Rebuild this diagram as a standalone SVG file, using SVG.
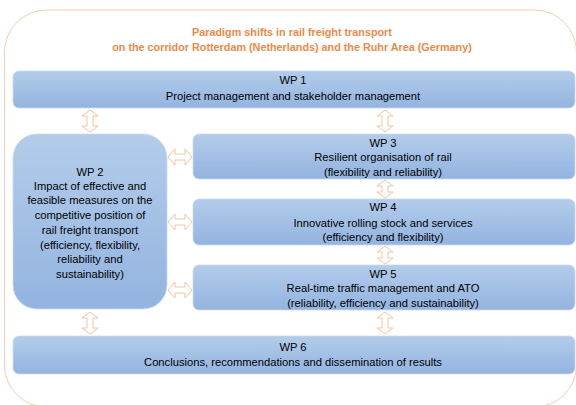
<svg xmlns="http://www.w3.org/2000/svg" width="576" height="405" viewBox="0 0 576 405">
<defs>
<linearGradient id="blue" x1="0" y1="0" x2="0" y2="1">
<stop offset="0" stop-color="#B3CCEA"/>
<stop offset="1" stop-color="#93B4E0"/>
</linearGradient>
<style>
.box{fill:url(#blue);stroke:#C9DAF0;stroke-width:0.8}
.t{font-family:"Liberation Sans",Arial,sans-serif;font-size:11.2px;fill:#000;text-anchor:middle}
.title{font-family:"Liberation Sans",Arial,sans-serif;font-size:10.8px;font-weight:bold;fill:#EC8A4A;text-anchor:middle}
.arr{fill:#fff;stroke:#F6C3A0;stroke-width:1}
</style>
</defs>
<rect x="0" y="0" width="576" height="405" fill="#fff"/>
<rect x="4.5" y="10" width="572" height="397" rx="42" fill="none" stroke="#F8CDB0" stroke-width="1"/>
<text class="title" x="292" y="35.5">Paradigm shifts in rail freight transport</text>
<text class="title" x="292" y="50.5">on the corridor Rotterdam (Netherlands) and the Ruhr Area (Germany)</text>

<g id="connectors">
<polygon class="arr" points="90,110 98,116 93,116 93,126 98,126 90,132 82,126 87,126 87,116 82,116"/>
<polygon class="arr" points="385,110 393,116 388,116 388,126 393,126 385,132 377,126 382,126 382,116 377,116"/>
<polygon class="arr" points="385,180 393,186 388,186 388,192 393,192 385,198 377,192 382,192 382,186 377,186"/>
<polygon class="arr" points="385,246 393,252 388,252 388,258 393,258 385,264 377,258 382,258 382,252 377,252"/>
<polygon class="arr" points="90,312 98,318 93,318 93,328 98,328 90,334 82,328 87,328 87,318 82,318"/>
<polygon class="arr" points="385,312 393,318 388,318 388,328 393,328 385,334 377,328 382,328 382,318 377,318"/>
<polygon class="arr" points="168,157 175,149 175,154 185,154 185,149 192,157 185,165 185,160 175,160 175,165"/>
<polygon class="arr" points="168,222 175,214 175,219 185,219 185,214 192,222 185,230 185,225 175,225 175,230"/>
<polygon class="arr" points="168,290 175,282 175,287 185,287 185,282 192,290 185,298 185,293 175,293 175,298"/>
</g>

<g id="wp1">
<rect class="box" x="13" y="71" width="562" height="37" rx="6"/>
<text class="t" x="293" y="84">WP 1</text>
<text class="t" x="293" y="100">Project management and stakeholder management</text>
</g>
<g id="wp2">
<rect class="box" x="13" y="134" width="154" height="175" rx="24"/>
<text class="t" x="90" y="176">WP 2</text>
<text class="t" x="90" y="190">Impact of effective and</text>
<text class="t" x="90" y="204">feasible measures on the</text>
<text class="t" x="90" y="219">competitive position of</text>
<text class="t" x="90" y="234">rail freight transport</text>
<text class="t" x="90" y="249">(efficiency, flexibility,</text>
<text class="t" x="90" y="263">reliability and</text>
<text class="t" x="90" y="278">sustainability)</text>
</g>
<g id="wp3">
<rect class="box" x="193" y="134" width="382" height="45" rx="6"/>
<text class="t" x="383" y="147">WP 3</text>
<text class="t" x="383" y="161">Resilient organisation of rail</text>
<text class="t" x="383" y="176">(flexibility and reliability)</text>
</g>
<g id="wp4">
<rect class="box" x="193" y="199" width="382" height="46" rx="6"/>
<text class="t" x="383" y="211">WP 4</text>
<text class="t" x="383" y="227">Innovative rolling stock and services</text>
<text class="t" x="383" y="241">(efficiency and flexibility)</text>
</g>
<g id="wp5">
<rect class="box" x="193" y="265" width="382" height="45" rx="6"/>
<text class="t" x="383" y="278">WP 5</text>
<text class="t" x="383" y="292">Real-time traffic management and ATO</text>
<text class="t" x="383" y="307">(reliability, efficiency and sustainability)</text>
</g>
<g id="wp6">
<rect class="box" x="13" y="336" width="562" height="38" rx="6"/>
<text class="t" x="293" y="351">WP 6</text>
<text class="t" x="293" y="366">Conclusions, recommendations and dissemination of results</text>
</g>
</svg>
